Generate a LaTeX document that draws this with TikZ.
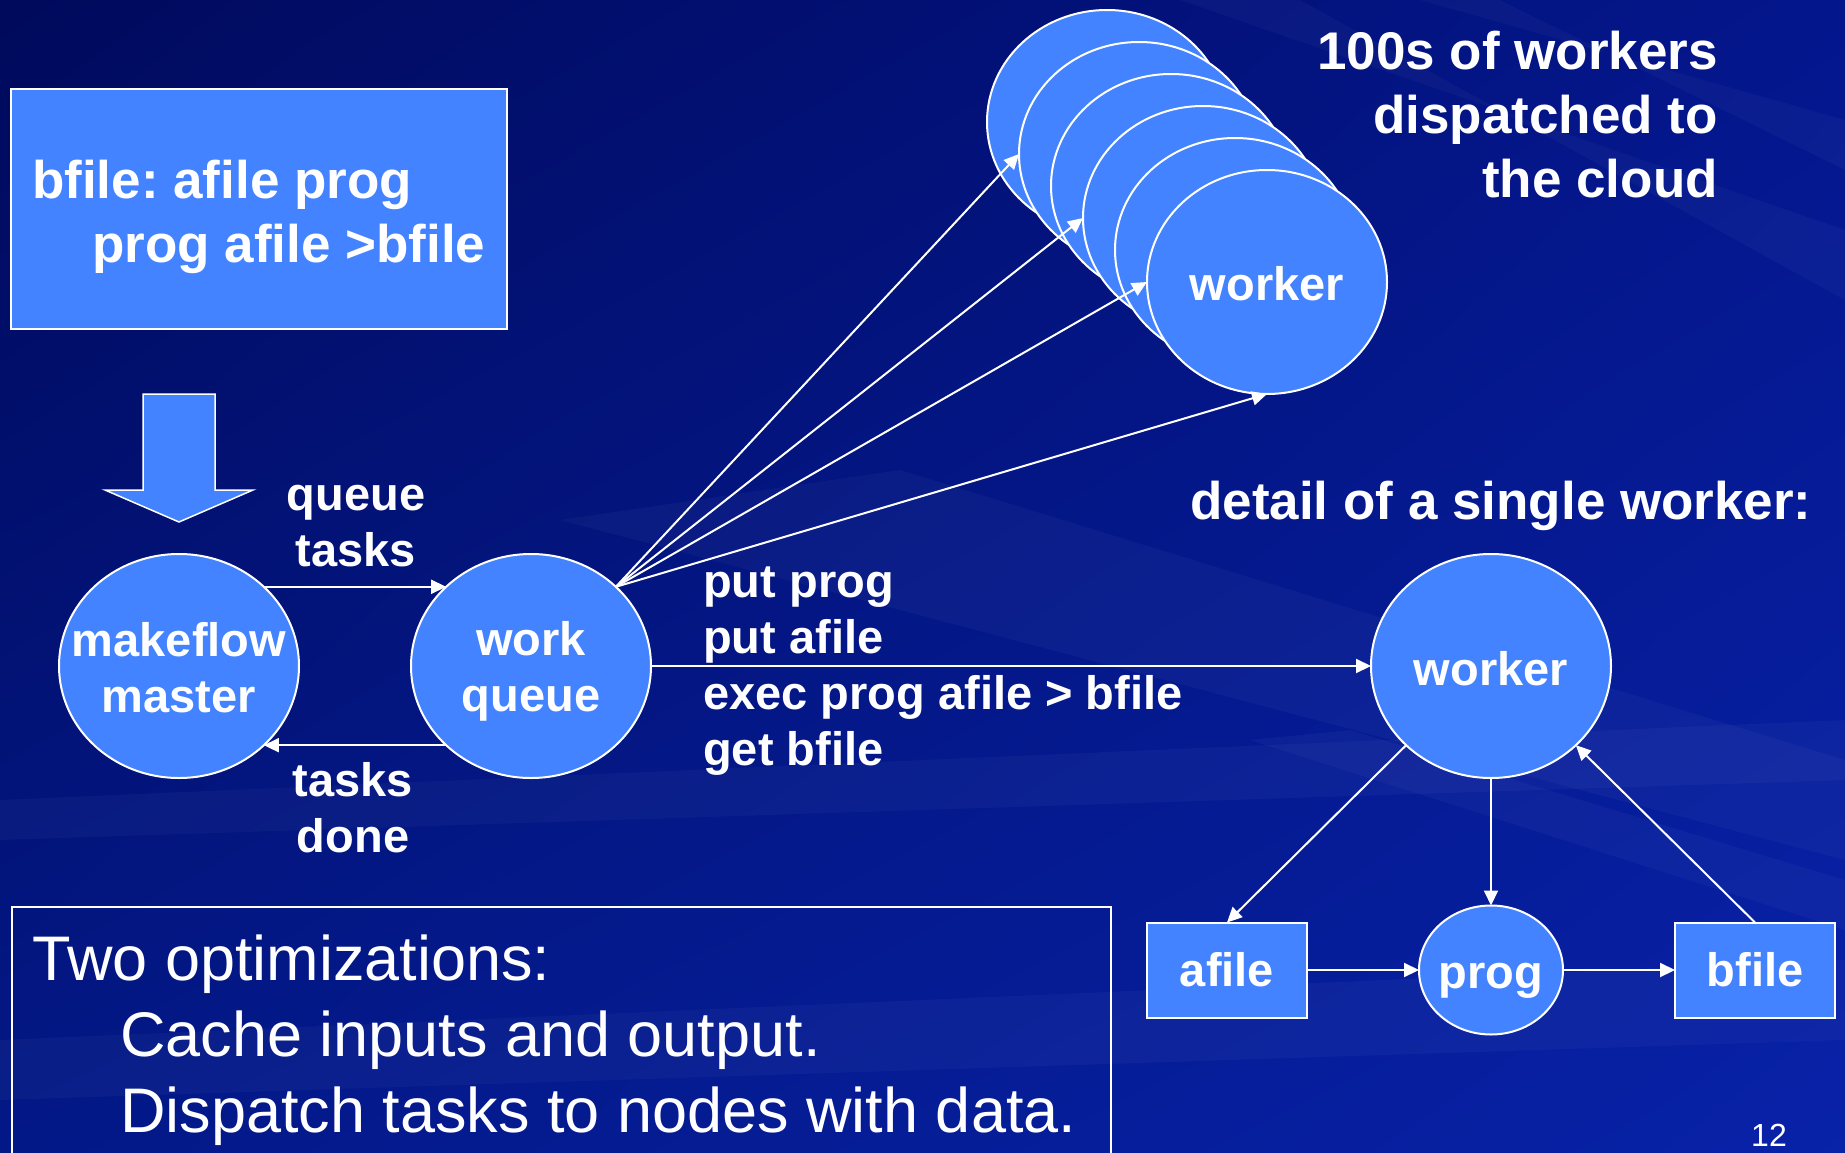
\documentclass[tikz,border=0pt]{standalone}
\usepackage{fontspec}
\setmainfont{Liberation Sans}
\usetikzlibrary{arrows.meta,shapes.geometric,shadings}

\definecolor{nodeblue}{RGB}{68,131,255}
\definecolor{bgUL}{RGB}{0,10,92}
\definecolor{bgUR}{RGB}{4,22,140}
\definecolor{bgLL}{RGB}{3,24,135}
\definecolor{bgLR}{RGB}{8,34,168}

% stacked lines with a common first baseline
\newcommand{\ctrlines}[1]{\vtop{\halign{\hfil##\hfil\cr#1\crcr}}}
\newcommand{\leftlines}[1]{\vtop{\halign{##\hfil\cr#1\crcr}}}
\newcommand{\rightlines}[1]{\vtop{\halign{\hfil##\cr#1\crcr}}}

\tikzset{
  bigtxt/.style={font=\fontsize{53}{64}\selectfont\bfseries\frenchspacing, text=white, inner sep=0pt},
  midtxt/.style={font=\fontsize{47}{56}\selectfont\bfseries\frenchspacing, text=white, inner sep=0pt},
  plaintxt/.style={font=\fontsize{63}{76}\selectfont\frenchspacing, text=white, inner sep=0pt},
  blob/.style={ellipse, draw=white, line width=2pt, fill=nodeblue, inner sep=0pt,
    outer sep=0pt, minimum width=240pt, minimum height=224pt},
  smallblob/.style={blob, minimum width=144pt, minimum height=129pt},
  filebox/.style={rectangle, draw=white, line width=2pt, fill=nodeblue, inner sep=0pt,
    outer sep=0pt, minimum width=160pt, minimum height=95pt,
    font=\fontsize{47}{56}\selectfont\bfseries, text=white},
  link/.style={draw=white, line width=2pt, -{Triangle[length=15pt,width=14pt]}},
  streak/.style={fill=white, fill opacity=0.03, draw=none},
}

\begin{document}
\begin{tikzpicture}[x=1pt, y=-1pt]
  \useasboundingbox (0,0) rectangle (1845,1153);
  \clip (0,0) rectangle (1845,1153);

  % backdrop
  \shade[upper left=bgUL, upper right=bgUR, lower left=bgLL, lower right=bgLR]
    (0,0) rectangle (1845,1153);
  \fill[streak] (1180,0) -- (1300,0) -- (1845,300) -- (1845,230) -- cycle;
  \fill[streak] (1420,0) -- (1500,0) -- (1845,170) -- (1845,120) -- cycle;
  \fill[streak] (560,520) -- (900,470) -- (1845,760) -- (1845,860) -- cycle;
  \fill[streak] (1250,740) -- (1350,730) -- (1845,880) -- (1845,930) -- cycle;
  \fill[streak] (0,800) -- (1845,720) -- (1845,780) -- (0,840) -- cycle;
  \fill[streak] (0,1040) -- (1845,960) -- (1845,1040) -- (0,1100) -- cycle;

  % makefile rule
  \node[rectangle, draw=white, line width=2pt, fill=nodeblue, inner sep=0pt,
    minimum width=496pt, minimum height=240pt] (rule) at (259,209) {};
  \node[bigtxt, anchor=base west] (ruletxt) at (32,198)
    {\leftlines{bfile: afile prog\cr\hskip60pt prog afile >bfile}};

  % block arrow down to the master
  \filldraw[fill=nodeblue, draw=white, line width=1.5pt]
    (143,394) -- (215,394) -- (215,490) -- (253,490) -- (179,522)
    -- (105,490) -- (143,490) -- cycle;

  % master and queue
  \node[blob] (mm) at (179,666) {};
  \node[midtxt, anchor=base] (mmtxt) at (179,656) {\ctrlines{makeflow\cr master}};
  \node[blob] (wq) at (531,666) {};
  \node[midtxt, anchor=base] (wqtxt) at (531,655) {\ctrlines{work\cr queue}};

  \draw[link] (mm.north east) -- (wq.north west);
  \draw[link] (wq.south west) -- (mm.south east);
  \node[midtxt, anchor=base] (qtlab) at (356,510) {\ctrlines{queue\cr tasks}};
  \node[midtxt, anchor=base] (tdlab) at (353,796) {\ctrlines{tasks\cr done}};

  % stack of cloud workers, back to front
  \node[blob] (w1) at (1107,122) {};
  \node[blob] (w2) at (1139,154) {};
  \node[blob] (w3) at (1171,186) {};
  \node[blob] (w4) at (1203,218) {};
  \node[blob] (w5) at (1235,250) {};
  \node[blob] (w6) at (1267,282) {};
  \node[midtxt, anchor=base] (w6txt) at (1267,300) {worker};

  \draw[link] (wq.north east) -- (w2.west);
  \draw[link] (wq.north east) -- (w4.west);
  \draw[link] (wq.north east) -- (w6.west);
  \draw[link] (wq.north east) -- (w6.south);

  \node[bigtxt, anchor=base east] (cloudlab) at (1718,70)
    {\rightlines{100s of workers\cr dispatched to\cr the cloud}};

  % a single worker in detail
  \node[bigtxt, anchor=base west] (detlab) at (1190,519) {detail of a single worker:};
  \node[blob] (dw) at (1491,666) {};
  \node[midtxt, anchor=base] (dwtxt) at (1491,685) {worker};

  \draw[link] (wq.east) -- (dw.west);
  \node[midtxt, anchor=base west] (cmdlab) at (703,597)
    {\leftlines{put prog\cr put afile\cr exec prog afile > bfile\cr get bfile}};

  \node[filebox] (afile) at (1227,970) {afile};
  \node[smallblob] (prog) at (1491,970) {};
  \node[midtxt, anchor=base] (progtxt) at (1491,988) {prog};
  \node[filebox] (bfile) at (1755,970) {bfile};

  \draw[link] (dw.south west) -- (afile.north);
  \draw[link] (dw.south) -- (prog.north);
  \draw[link] (bfile.north) -- (dw.south east);
  \draw[link] (afile.east) -- (prog.west);
  \draw[link] (prog.east) -- (bfile.west);

  % notes
  \node[rectangle, draw=white, line width=1.5pt, inner sep=0pt, anchor=north west,
    minimum width=1099pt, minimum height=280pt] (optbox) at (11,906) {};
  \node[plaintxt, anchor=base west] (opttxt) at (32,980)
    {\leftlines{Two optimizations:\cr\hskip88pt Cache inputs and output.\cr
      \hskip88pt Dispatch tasks to nodes with data.}};

  \node[font=\fontsize{32}{38}\selectfont, text=white, inner sep=0pt, anchor=base west]
    (pgnum) at (1751,1146) {12};
\end{tikzpicture}
\end{document}
